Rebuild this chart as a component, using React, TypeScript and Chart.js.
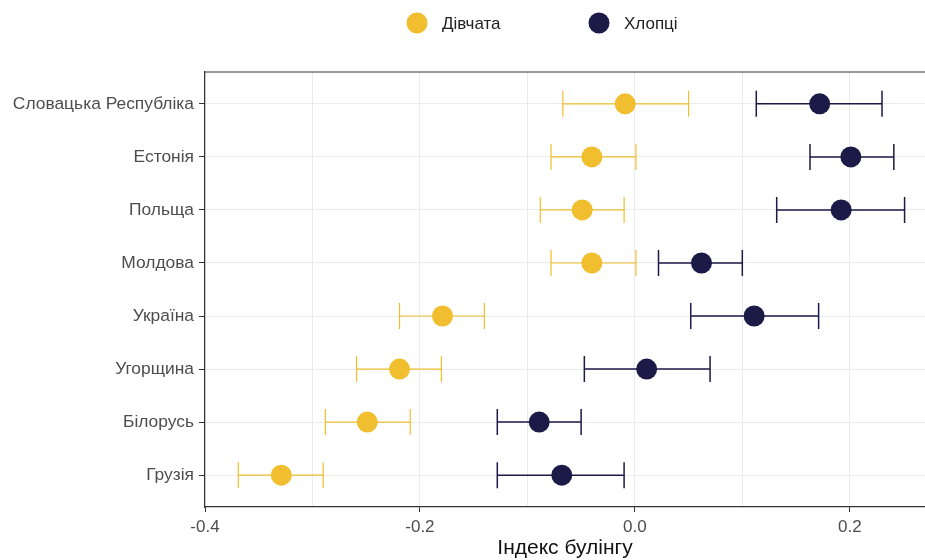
import React, { useEffect, useRef } from "react";
import { Chart, registerables } from "chart.js";

Chart.register(...registerables);

const categories = [
  "Словацька Республіка",
  "Естонія",
  "Польща",
  "Молдова",
  "Україна",
  "Угорщина",
  "Білорусь",
  "Грузія",
];
const seriesNames = ["Дівчата", "Хлопці"];
const girlsMean = [-0.009, -0.04, -0.049, -0.04, -0.179, -0.219, -0.249, -0.329];
const girlsLow = [-0.067, -0.078, -0.088, -0.078, -0.219, -0.259, -0.288, -0.369];
const girlsHigh = [0.05, 0.001, -0.01, 0.001, -0.14, -0.18, -0.209, -0.29];
const boysMean = [0.172, 0.201, 0.192, 0.062, 0.111, 0.011, -0.089, -0.068];
const boysLow = [0.113, 0.163, 0.132, 0.022, 0.052, -0.047, -0.128, -0.128];
const boysHigh = [0.23, 0.241, 0.251, 0.1, 0.171, 0.07, -0.05, -0.01];
const xTickLabels = ["-0.4", "-0.2", "0.0", "0.2"];

const YELLOW = "#F0BE2E";
const NAVY = "#1C1A47";
const FONT = "'Liberation Sans', Arial, sans-serif";

export default function App() {
  const ref = useRef<HTMLCanvasElement | null>(null);

  useEffect(() => {
    document.body.style.margin = "0";
    const canvas = ref.current;
    if (!canvas) return;

    const errorBars = {
      id: "errorBars",
      beforeDatasetsDraw(chart: any) {
        const ctx = chart.ctx;
        const xs = chart.scales.x;
        const ys = chart.scales.y;
        const sets = [
          { low: girlsLow, high: girlsHigh, color: YELLOW, w: 1.2 },
          { low: boysLow, high: boysHigh, color: NAVY, w: 1.5 },
        ];
        ctx.save();
        sets.forEach((s) => {
          ctx.strokeStyle = s.color;
          ctx.lineWidth = s.w;
          s.low.forEach((lo, i) => {
            const y = ys.getPixelForValue(i);
            const x1 = xs.getPixelForValue(lo);
            const x2 = xs.getPixelForValue(s.high[i]);
            ctx.beginPath();
            ctx.moveTo(x1, y);
            ctx.lineTo(x2, y);
            ctx.moveTo(x1, y - 13);
            ctx.lineTo(x1, y + 13);
            ctx.moveTo(x2, y - 13);
            ctx.lineTo(x2, y + 13);
            ctx.stroke();
          });
        });
        ctx.restore();
      },
      afterDraw(chart: any) {
        const ctx = chart.ctx;
        const a = chart.chartArea;
        ctx.save();
        // top panel border
        ctx.strokeStyle = "#333333";
        ctx.lineWidth = 1.2;
        ctx.beginPath();
        ctx.moveTo(a.left, a.top);
        ctx.lineTo(a.right, a.top);
        ctx.stroke();
        // legend
        const colors = [YELLOW, NAVY];
        const centers = [417, 599];
        ctx.font = "17px " + FONT;
        ctx.textBaseline = "middle";
        ctx.textAlign = "left";
        seriesNames.forEach((n, i) => {
          ctx.fillStyle = colors[i];
          ctx.beginPath();
          ctx.arc(centers[i], 23, 10.5, 0, Math.PI * 2);
          ctx.fill();
          ctx.fillStyle = "#222222";
          ctx.fillText(n, centers[i] + 25, 24);
        });
        ctx.restore();
      },
    };

    const chart = new Chart(canvas, {
      type: "scatter",
      data: {
        datasets: [
          {
            label: seriesNames[0],
            data: girlsMean.map((v, i) => ({ x: v, y: i })),
            backgroundColor: YELLOW,
            borderColor: YELLOW,
            pointRadius: 10.5,
            pointHoverRadius: 10.5,
            borderWidth: 0,
          },
          {
            label: seriesNames[1],
            data: boysMean.map((v, i) => ({ x: v, y: i })),
            backgroundColor: NAVY,
            borderColor: NAVY,
            pointRadius: 10.5,
            pointHoverRadius: 10.5,
            borderWidth: 0,
          },
        ],
      },
      options: {
        animation: false,
        responsive: true,
        maintainAspectRatio: false,
        layout: { autoPadding: false, padding: { top: 72, right: 0, bottom: 0, left: 0 } },
        plugins: {
          legend: { display: false },
          tooltip: { enabled: false },
        },
        scales: {
          x: {
            type: "linear",
            min: -0.4,
            max: 0.27,
            afterBuildTicks(scale: any) {
              const t = [];
              for (let k = -4; k <= 2; k++) t.push({ value: k / 10 });
              scale.ticks = t;
            },
            afterFit(scale: any) {
              scale.height = 53;
              scale.paddingRight = 0;
              scale.paddingLeft = 0;
            },
            ticks: {
              autoSkip: false,
              maxRotation: 0,
              color: "#4d4d4d",
              font: { family: FONT, size: 17 },
              padding: 5,
              callback: (v: any) => {
                const idx = Math.round(Number(v) * 10) + 4;
                return idx % 2 === 0 ? xTickLabels[idx / 2] : "";
              },
            },
            grid: {
              color: "#ebebeb",
              lineWidth: 1,
              tickLength: 5,
              tickColor: (c: any) =>
                Math.round((c.tick?.value ?? 0) * 10) % 2 === 0 ? "#333333" : "rgba(0,0,0,0)",
            },
            border: { color: "#333333", width: 1.2 },
            title: {
              display: true,
              text: "Індекс булінгу",
              color: "#111111",
              font: { family: FONT, size: 21, lineHeight: 1.1 },
              padding: { top: 0, bottom: 0 },
            },
          },
          y: {
            type: "linear",
            reverse: true,
            min: -0.6,
            max: 7.6,
            afterBuildTicks(scale: any) {
              scale.ticks = categories.map((_, i) => ({ value: i }));
            },
            afterFit(scale: any) {
              scale.width = 205;
            },
            ticks: {
              autoSkip: false,
              color: "#4d4d4d",
              font: { family: FONT, size: 17.4 },
              padding: 5,
              callback: (v: any) => categories[Math.round(Number(v))] ?? "",
            },
            grid: {
              color: "#ebebeb",
              lineWidth: 1,
              tickLength: 6,
              tickColor: "#333333",
            },
            border: { color: "#333333", width: 1.2 },
          },
        },
      },
      plugins: [errorBars],
    });

    return () => chart.destroy();
  }, []);

  return (
    <div style={{ width: 925, height: 560, position: "relative" }}>
      <canvas ref={ref} />
    </div>
  );
}
